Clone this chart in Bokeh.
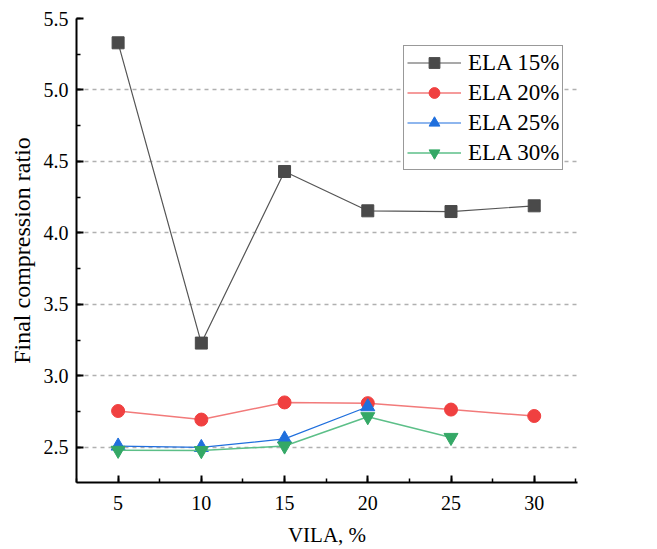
from bokeh.plotting import figure
from bokeh.models import Range1d, SingleIntervalTicker, Legend, LegendItem, PrintfTickFormatter
from bokeh.embed import file_html
from bokeh.resources import INLINE

vila = [5, 10, 15, 20, 25, 30]
ela15 = [5.33, 3.23, 4.43, 4.155, 4.15, 4.19]
ela20 = [2.755, 2.695, 2.815, 2.81, 2.765, 2.72]
vila25 = [5, 10, 15, 20]
ela25 = [2.51, 2.50, 2.56, 2.785]
vila30 = [5, 10, 15, 20, 25]
ela30 = [2.48, 2.478, 2.51, 2.715, 2.57]

FONT = "Liberation Serif"

p = figure(width=657, height=549, output_backend="svg", toolbar_location=None,
           x_range=Range1d(2.5, 32.6), y_range=Range1d(2.255, 5.5),
           min_border_left=76, min_border_right=80, min_border_top=18, min_border_bottom=67)
p.outline_line_color = None
p.xgrid.visible = False
p.ygrid.grid_line_color = "#b0b0b0"
p.ygrid.grid_line_dash = "4 4"
p.ygrid.grid_line_width = 1.5

p.xaxis.ticker = SingleIntervalTicker(interval=5, num_minor_ticks=2)
p.yaxis.ticker = SingleIntervalTicker(interval=0.5, num_minor_ticks=2)
p.yaxis.formatter = PrintfTickFormatter(format="%.1f")

for ax in (p.xaxis, p.yaxis):
    ax.axis_line_width = 2
    ax.axis_line_color = "black"
    ax.major_tick_in = 7
    ax.major_tick_out = 0
    ax.minor_tick_in = 4
    ax.minor_tick_out = 0
    ax.major_tick_line_width = 2
    ax.minor_tick_line_width = 1.5
    ax.major_label_text_font = FONT
    ax.major_label_text_font_size = "20px"
    ax.major_label_text_color = "black"
    ax.axis_label_text_font = FONT
    ax.axis_label_text_font_style = "normal"
    ax.axis_label_text_color = "black"

p.xaxis.axis_label = "VILA, %"
p.yaxis.axis_label = "Final compression ratio"
p.xaxis.axis_label_text_font_size = "21px"
p.yaxis.axis_label_text_font_size = "24px"
p.xaxis.major_label_standoff = 13
p.xaxis.axis_label_standoff = 10
p.xaxis.axis_label_text_line_height = 0.8
p.yaxis.major_label_standoff = 8
p.yaxis.axis_label_standoff = 6

items = []
l1 = p.line(vila, ela15, line_color="#555555", line_width=1.2)
m1 = p.scatter(vila, ela15, marker="square", size=12, fill_color="#4a4a4a", line_color="#4a4a4a")
items.append(LegendItem(label="ELA 15%", renderers=[l1, m1]))

l2 = p.line(vila, ela20, line_color="#f27a7a", line_width=1.5)
m2 = p.scatter(vila, ela20, marker="circle", size=13, fill_color="#f04040", line_color="#f04040")
items.append(LegendItem(label="ELA 20%", renderers=[l2, m2]))

l3 = p.line(vila25, ela25, line_color="#1f6fdd", line_width=1.2)
m3 = p.scatter(vila25, ela25, marker="triangle", size=14, fill_color="#1f6fdd", line_color="#1f6fdd")
items.append(LegendItem(label="ELA 25%", renderers=[l3, m3]))

l4 = p.line(vila30, ela30, line_color="#5cbf88", line_width=1.5)
m4 = p.scatter(vila30, ela30, marker="inverted_triangle", size=14, fill_color="#34a866", line_color="#34a866")
items.append(LegendItem(label="ELA 30%", renderers=[l4, m4]))

legend = Legend(items=items, location=(327, 312))
legend.label_text_font = FONT
legend.label_text_font_size = "23px"
legend.label_text_color = "black"
legend.glyph_width = 54
legend.glyph_height = 27
legend.label_height = 27
legend.spacing = 3
legend.padding = 3
legend.margin = 0
legend.label_standoff = 7
legend.border_line_color = "#333333"
legend.border_line_width = 1.2
legend.background_fill_alpha = 1
p.add_layout(legend, "center")

open("out.html", "w").write(file_html(p, INLINE))
